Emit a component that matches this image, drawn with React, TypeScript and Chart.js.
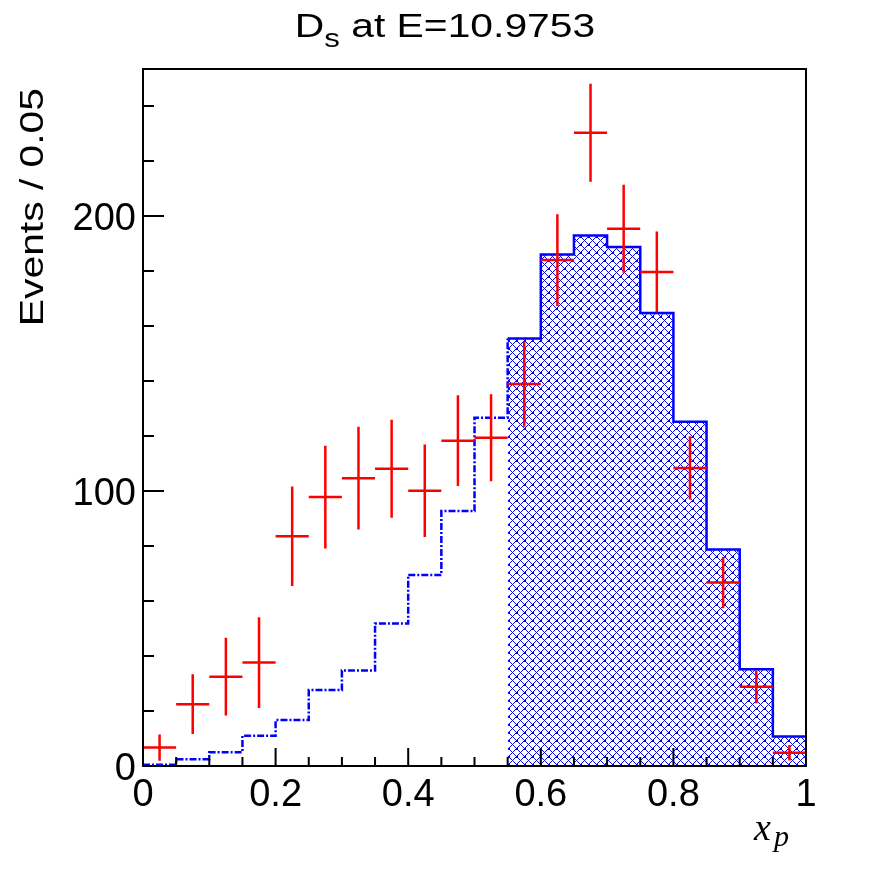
import { useEffect, useRef } from "react";
import { Chart, registerables } from "chart.js";
import type { Plugin } from "chart.js";

Chart.register(...registerables);

// bin edges of x_p (20 bins of 0.05)
const binEdges = [
  0, 0.05, 0.1, 0.15, 0.2, 0.25, 0.3, 0.35, 0.4, 0.45, 0.5, 0.55, 0.6, 0.65, 0.7,
  0.75, 0.8, 0.85, 0.9, 0.95, 1.0,
];
// MC histogram contents per bin
const mcCounts = [
  0.5, 2.5, 5, 11, 16.7, 27.6, 34.7, 51.8, 69.5, 92.7, 126.7, 155.5, 186, 192.9,
  188.8, 164.8, 125.2, 78.7, 35.2, 10.7,
];
// first bin of the hatched (solid) part
const hatchFromBin = 11;
// data points at bin centres
const dataCenters = [
  0.025, 0.075, 0.125, 0.175, 0.225, 0.275, 0.325, 0.375, 0.425, 0.475, 0.525,
  0.575, 0.625, 0.675, 0.725, 0.775, 0.825, 0.875, 0.925, 0.975,
];
const dataCounts = [
  6.7, 22.5, 32.5, 37.6, 83.6, 97.8, 104.7, 108.1, 100.1, 118.3, 119.4, 138.9,
  184, 230.3, 195.4, 179.7, 108.4, 66.7, 28.8, 4.8,
];
const dataErrors = [
  4.8, 10.9, 14.1, 16.5, 18.1, 18.7, 18.7, 17.8, 16.8, 16.5, 15.8, 15.5, 16.7,
  17.8, 16, 14.7, 11.5, 9.3, 6, 2.8,
];
const halfBin = 0.025;

const xTickLabels = ["0", "0.2", "0.4", "0.6", "0.8", "1"];

const SANS = "'Liberation Sans', Arial, Helvetica, sans-serif";
const SERIF = "'Liberation Serif', 'Times New Roman', serif";

// blue cross-hatch tile, drawn pixel by pixel so the lines stay crisp
function makeHatch(): CanvasPattern | string {
  const tile = document.createElement("canvas");
  tile.width = 8;
  tile.height = 8;
  const g = tile.getContext("2d");
  if (!g) return "rgba(0,0,255,0.3)";
  g.fillStyle = "#0000ff";
  for (let i = 0; i < 8; i++) {
    g.fillRect(i, i, 1, 1);
    g.fillRect((8 - i) % 8, i, 1, 1);
  }
  g.fillRect(4, 4, 2, 2);
  return g.createPattern(tile, "repeat") ?? "rgba(0,0,255,0.3)";
}

const rootFrame: Plugin = {
  id: "rootFrame",
  afterDraw(chart) {
    const { ctx, chartArea } = chart;
    const xs = chart.scales.x;
    const ys = chart.scales.y;
    const { left, right, top, bottom } = chartArea;
    ctx.save();
    ctx.strokeStyle = "#000";
    ctx.lineWidth = 2;
    ctx.strokeRect(left, top, right - left, bottom - top);

    ctx.beginPath();
    for (let k = 1; k < 20; k++) {
      const px = xs.getPixelForValue(k * 0.05);
      const len = k % 4 === 0 ? 18 : 9;
      ctx.moveTo(px, bottom);
      ctx.lineTo(px, bottom - len);
    }
    for (let v = 20; v <= ys.max; v += 20) {
      const py = ys.getPixelForValue(v);
      const len = v % 100 === 0 ? 21 : 11;
      ctx.moveTo(left, py);
      ctx.lineTo(left + len, py);
    }
    ctx.stroke();

    // tick labels
    ctx.fillStyle = "#000";
    ctx.font = `38px ${SANS}`;
    ctx.textBaseline = "alphabetic";
    ctx.textAlign = "center";
    xs.ticks.forEach((t) => {
      const label = xTickLabels[Math.round(t.value / 0.2)];
      if (label === undefined) return;
      ctx.fillText(label, xs.getPixelForValue(t.value), 806);
    });
    ctx.textAlign = "right";
    ys.ticks.forEach((t) => {
      if (t.value % 100 !== 0) return;
      ctx.fillText(String(t.value), 136, ys.getPixelForValue(t.value) + 14);
    });

    // title
    const stretch = 1.2;
    const big = `34px ${SANS}`;
    const small = `26px ${SANS}`;
    const rest = " at E=10.9753";
    ctx.font = big;
    const wD = ctx.measureText("D").width;
    const wRest = ctx.measureText(rest).width;
    ctx.font = small;
    const wS = ctx.measureText("s").width;
    const total = (wD + wS + wRest) * stretch;
    ctx.save();
    ctx.translate(445 - total / 2, 37);
    ctx.scale(stretch, 1);
    ctx.textAlign = "left";
    ctx.font = big;
    ctx.fillText("D", 0, 0);
    ctx.font = small;
    ctx.fillText("s", wD, 10);
    ctx.font = big;
    ctx.fillText(rest, wD + wS, 0);
    ctx.restore();

    // y title
    ctx.save();
    ctx.translate(43, 88);
    ctx.rotate(-Math.PI / 2);
    ctx.scale(stretch, 1);
    ctx.textAlign = "right";
    ctx.font = big;
    ctx.fillText("Events / 0.05", 0, 0);
    ctx.restore();

    // x title
    ctx.font = `italic 38px ${SERIF}`;
    ctx.textAlign = "left";
    ctx.fillText("x", 754, 840);
    ctx.font = `italic 30px ${SERIF}`;
    ctx.fillText("p", 774, 846);
    ctx.restore();
  },
};

export default function App() {
  const canvasRef = useRef<HTMLCanvasElement | null>(null);

  useEffect(() => {
    const canvas = canvasRef.current;
    if (!canvas) return;

    const vBars: { x: number; y: number | null }[] = [];
    const hBars: { x: number; y: number | null }[] = [];
    dataCenters.forEach((c, i) => {
      const v = dataCounts[i];
      const e = dataErrors[i];
      vBars.push({ x: c, y: v - e }, { x: c, y: v + e }, { x: c, y: null });
      hBars.push(
        { x: c - halfBin, y: v },
        { x: c + halfBin, y: v },
        { x: c + halfBin, y: null },
      );
    });

    const solid = [];
    for (let i = hatchFromBin; i < mcCounts.length; i++) {
      solid.push({ x: binEdges[i], y: mcCounts[i] });
    }
    solid.push({ x: binEdges[mcCounts.length], y: mcCounts[mcCounts.length - 1] });

    const dotted = [];
    for (let i = 0; i < hatchFromBin; i++) {
      dotted.push({ x: binEdges[i], y: mcCounts[i] });
    }
    dotted.push({ x: binEdges[hatchFromBin], y: mcCounts[hatchFromBin] });

    const chart = new Chart(canvas, {
      type: "line",
      data: {
        datasets: [
          {
            data: vBars,
            borderColor: "#ff0000",
            borderWidth: 2.5,
            pointRadius: 0,
            spanGaps: false,
            fill: false,
          },
          {
            data: hBars,
            borderColor: "#ff0000",
            borderWidth: 2.5,
            pointRadius: 0,
            spanGaps: false,
            fill: false,
          },
          {
            data: solid,
            stepped: "before",
            borderColor: "#0000ff",
            borderWidth: 2.5,
            pointRadius: 0,
            fill: "origin",
            backgroundColor: makeHatch(),
          },
          {
            data: dotted,
            stepped: "before",
            borderColor: "#0000ff",
            borderWidth: 2.5,
            borderDash: [7, 2, 2, 2],
            pointRadius: 0,
            fill: false,
          },
        ],
      },
      options: {
        animation: false,
        responsive: false,
        devicePixelRatio: 1,
        layout: { padding: { left: 0, right: 90, top: 69, bottom: 0 } },
        plugins: {
          legend: { display: false },
          tooltip: { enabled: false },
          title: { display: false },
        },
        scales: {
          x: {
            type: "linear",
            min: 0,
            max: 1,
            grid: { display: false, drawTicks: false },
            border: { display: false },
            ticks: { stepSize: 0.2, display: false },
            afterFit: (scale) => {
              scale.height = 106;
            },
          },
          y: {
            type: "linear",
            min: 0,
            max: 253.5,
            grid: { display: false, drawTicks: false },
            border: { display: false },
            ticks: { stepSize: 100, display: false },
            afterFit: (scale) => {
              scale.width = 143;
            },
          },
        },
      },
      plugins: [rootFrame],
    });

    return () => {
      chart.destroy();
    };
  }, []);

  return (
    <div
      style={{
        position: "absolute",
        left: 0,
        top: 0,
        width: 896,
        height: 872,
        background: "#fff",
      }}
    >
      <canvas
        ref={canvasRef}
        width={896}
        height={872}
        style={{ width: 896, height: 872, display: "block" }}
      />
    </div>
  );
}
